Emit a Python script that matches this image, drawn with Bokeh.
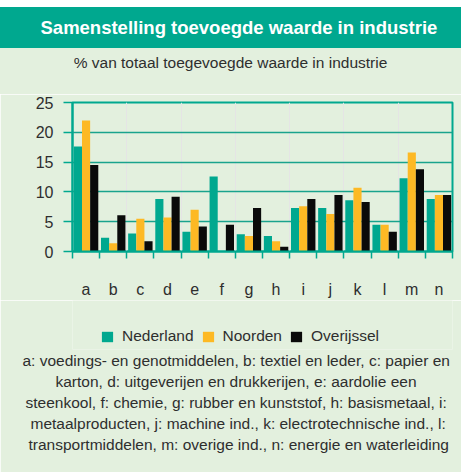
from bokeh.plotting import figure
from bokeh.layouts import column
from bokeh.models import (Range1d, LinearAxis, FixedTicker, Title, Label,
                          Legend, LegendItem, ColumnDataSource)
from bokeh.transform import dodge
from bokeh.embed import file_html
from bokeh.resources import INLINE

# ---------------- data ----------------
categories = ["a", "b", "c", "d", "e", "f", "g", "h", "i", "j", "k", "l", "m", "n"]
nederland = [17.6, 2.3, 3.0, 8.8, 3.3, 12.6, 2.9, 2.6, 7.3, 7.3, 8.6, 4.5, 12.3, 8.8]
noorden = [22.0, 1.4, 5.5, 5.7, 7.0, 0.0, 2.6, 1.7, 7.6, 6.3, 10.7, 4.5, 16.6, 9.5]
overijssel = [14.5, 6.1, 1.7, 9.2, 4.2, 4.5, 7.3, 0.8, 8.8, 9.5, 8.3, 3.3, 13.8, 9.5]
series_names = ["Nederland", "Noorden", "Overijssel"]
y_ticks = [0, 5, 10, 15, 20, 25]

title_text = "Samenstelling toevoegde waarde in industrie"
subtitle_text = "% van totaal toegevoegde waarde in industrie"
footnote_lines = [
    "a: voedings- en genotmiddelen, b: textiel en leder,  c: papier en",
    "karton,  d: uitgeverijen en drukkerijen, e: aardolie een",
    "steenkool,  f: chemie, g: rubber en kunststof, h: basismetaal, i:",
    "metaalproducten, j: machine ind., k: electrotechnische ind., l:",
    "transportmiddelen, m: overige ind., n: energie en waterleiding",
]

# category slots: slot i spans [i, i+1], centre at i + 0.5
n_cat = len(categories)
x_centers = [i + 0.5 for i in range(n_cat)]
x_bounds = list(range(n_cat + 1))

# ---------------- style ----------------
FONT = "Liberation Sans"
TEAL = "#00A88F"
GRID = "#19A38D"
BG = "#E3F0DE"
TXT = "#2E2E2E"
colors = ["#00A88F", "#FDB924", "#0A0A0A"]
offsets = [-0.3, 0.0, 0.3]
footnote_offsets = [-50, -17, -47, -42, -44]   # left edge of each line vs. plot frame

W = 461
FW = 380
BL, BR = 72, 9

source = ColumnDataSource(dict(x=x_centers, cat=categories, Nederland=nederland,
                               Noorden=noorden, Overijssel=overijssel))


def bare(fig):
    fig.grid.visible = False
    fig.outline_line_color = None
    fig.background_fill_color = BG
    return fig


# ---------------- top: title band + subtitle ----------------
top = figure(width=W, height=94, frame_width=FW, title=None,
             x_range=Range1d(0, FW), y_range=Range1d(41, 0),
             output_backend="svg", toolbar_location=None,
             x_axis_location=None, y_axis_location=None,
             min_border_left=BL, min_border_right=BR, min_border_top=0, min_border_bottom=0,
             styles={"background": f"linear-gradient(to bottom, #FFFFFF 0px, #FFFFFF 7px, "
                                   f"{TEAL} 7px, {TEAL} 48px, {BG} 48px, {BG} 100%)"})
bare(top)
top.border_fill_alpha = 0
top.add_layout(Title(text=title_text, align="left", offset=-32, vertical_align="middle",
                     standoff=30, text_font=FONT, text_font_size="18.5px",
                     text_font_style="bold", text_color="white"), "above")
top.add_layout(Label(x=158, y=9, text=subtitle_text, text_align="center",
                     text_baseline="middle", text_font=FONT, text_font_size="15.5px",
                     text_color=TXT))

# ---------------- main chart ----------------
p = figure(width=W, height=206, frame_width=FW, title=None,
           x_range=Range1d(0, n_cat), y_range=Range1d(0, 25),
           output_backend="svg", toolbar_location=None, x_axis_location=None,
           min_border_left=BL, min_border_right=BR, min_border_top=8, min_border_bottom=0)
p.background_fill_color = BG
p.border_fill_color = BG
p.outline_line_color = TEAL
p.outline_line_width = 2

renderers = []
for name, col, off in zip(series_names, colors, offsets):
    r = p.vbar(x=dodge("x", off), top=name, width=0.3,
               source=source, fill_color=col, line_color=None)
    renderers.append(r)

yax = p.yaxis[0]
yax.ticker = FixedTicker(ticks=y_ticks)
yax.axis_line_color = TEAL
yax.axis_line_width = 2
yax.major_tick_line_color = TEAL
yax.major_tick_line_width = 1.5
yax.major_tick_out = 9
yax.major_tick_in = 0
yax.minor_tick_line_color = None
yax.major_label_standoff = 10
yax.major_label_text_font = FONT
yax.major_label_text_font_size = "16px"
yax.major_label_text_color = TXT

p.ygrid.grid_line_color = GRID
p.ygrid.grid_line_width = 1.3

cat_axis = LinearAxis(ticker=FixedTicker(ticks=x_centers, minor_ticks=x_bounds),
                      major_label_overrides={xc: c for xc, c in zip(x_centers, categories)},
                      axis_line_color=TEAL, axis_line_width=2,
                      major_tick_line_color=None, major_tick_out=7, major_tick_in=0,
                      minor_tick_line_color=TEAL, minor_tick_line_width=1.5,
                      minor_tick_out=7, minor_tick_in=0,
                      major_label_text_font=FONT, major_label_text_font_size="16px",
                      major_label_text_color=TXT, major_label_standoff=22)
p.add_layout(cat_axis, "below")

# ---------------- bottom: legend + footnote ----------------
bot = figure(width=W, height=172, frame_width=FW, title=None,
             x_range=Range1d(0, n_cat), y_range=Range1d(0, 25),
             output_backend="svg", toolbar_location=None,
             x_axis_location=None, y_axis_location=None,
             min_border_left=BL, min_border_right=BR, min_border_top=0, min_border_bottom=123)
bare(bot)
bot.border_fill_color = BG

legend_renderers = []
for name, col, off in zip(series_names, colors, offsets):
    r = bot.vbar(x=dodge("x", off), top=name, width=0.3, source=source,
                 fill_color=col, line_color=None, visible=False)
    legend_renderers.append(r)

legend = Legend(items=[LegendItem(label=n, renderers=[r]) for n, r in zip(series_names, legend_renderers)],
                orientation="horizontal", location=(28, 4),
                glyph_width=14, glyph_height=13, label_standoff=8, spacing=7, label_height=16,
                padding=0, margin=0, border_line_color=None, background_fill_alpha=0,
                inactive_fill_alpha=0,
                label_text_font=FONT, label_text_font_size="15.5px", label_text_color=TXT)
bot.add_layout(legend, "center")

for line, off in zip(footnote_lines, footnote_offsets):
    bot.add_layout(Title(text=line, align="left", offset=off, vertical_align="middle",
                         standoff=2, text_font=FONT, text_font_size="15.5px",
                         text_font_style="normal", text_color=TXT), "below")

layout = column(top, p, bot, spacing=0)
open("out.html", "w").write(file_html(layout, INLINE))
